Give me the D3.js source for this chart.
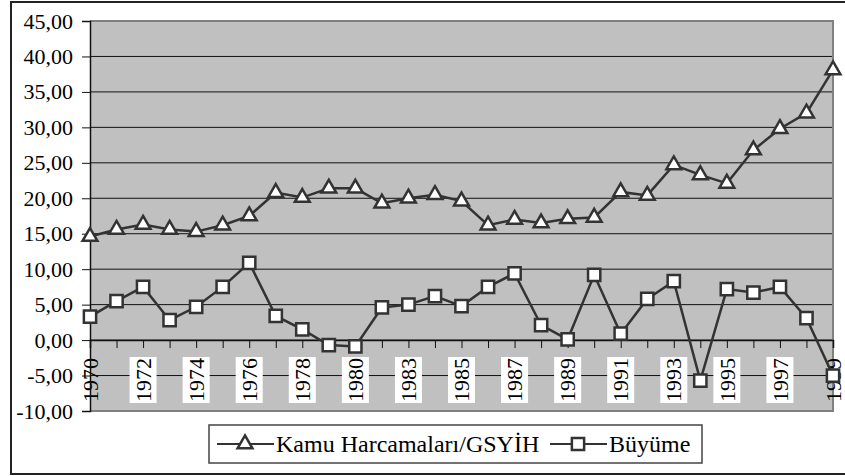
<!DOCTYPE html>
<html>
<head>
<meta charset="utf-8">
<script src="https://cdn.jsdelivr.net/npm/d3@7"></script>
<style>
  body { margin: 0; background: #fff; }
  svg text { font-family: "Liberation Serif", "Times New Roman", serif; fill: #000; }
</style>
</head>
<body>
<svg id="chart" width="845" height="476"></svg>
<script>
// years on the category axis (one year is missing between 1980 and 1983)
var years = ['1970', '1971', '1972', '1973', '1974', '1975', '1976', '1977', '1978', '1979',
  '1980', '1981', '1983', '1984', '1985', '1986', '1987', '1988', '1989', '1990',
  '1991', '1992', '1993', '1994', '1995', '1996', '1997', '1998', '1999'];

var kamu = [14.6, 15.6, 16.3, 15.6, 15.3, 16.2, 17.5, 20.8, 20.1, 21.4,
  21.4, 19.3, 20.0, 20.5, 19.6, 16.2, 17.0, 16.5, 17.1, 17.3,
  20.9, 20.4, 24.7, 23.3, 22.1, 26.8, 29.8, 32.0, 38.1];

var buyume = [3.3, 5.5, 7.5, 2.8, 4.7, 7.5, 10.9, 3.4, 1.5, -0.7,
  -0.9, 4.6, 5.0, 6.2, 4.8, 7.5, 9.4, 2.1, 0.1, 9.2,
  0.9, 5.8, 8.3, -5.7, 7.2, 6.7, 7.5, 3.1, -5.0];

var yTicks = [-10, -5, 0, 5, 10, 15, 20, 25, 30, 35, 40, 45];

var seriesNames = ['Kamu Harcamaları/GSYİH', 'Büyüme'];

var plot = { left: 90, top: 21, right: 833, bottom: 411 };
var ink = '#333';
var serif = '"Liberation Serif", "Times New Roman", serif';

var svg = d3.select('#chart');

// outer frame
svg.append('rect')
  .attr('x', 11).attr('y', 2).attr('width', 840).attr('height', 472)
  .attr('fill', 'none').attr('stroke', '#222').attr('stroke-width', 2);

var x = d3.scalePoint().domain(years).range([plot.left, plot.right]);
var y = d3.scaleLinear().domain([-10, 45]).range([plot.bottom, plot.top]);

// plot area
svg.append('rect')
  .attr('x', plot.left).attr('y', plot.top)
  .attr('width', plot.right - plot.left).attr('height', plot.bottom - plot.top)
  .attr('fill', '#c0c0c0');

// gridlines
svg.append('g').selectAll('line')
  .data(yTicks.filter(function (t) { return t > -10 && t < 45; }))
  .enter().append('line')
  .attr('x1', plot.left).attr('x2', plot.right)
  .attr('y1', function (d) { return y(d); }).attr('y2', function (d) { return y(d); })
  .attr('stroke', '#111').attr('stroke-width', 1);

// plot border (top, right, bottom)
svg.append('path')
  .attr('d', 'M' + plot.left + ',' + plot.top + 'H' + plot.right + 'V' + plot.bottom + 'H' + plot.left)
  .attr('fill', 'none').attr('stroke', '#808080').attr('stroke-width', 2);

// category labels with white boxes
var labelYears = years.filter(function (d, i) { return i % 2 === 0; });
var labels = svg.append('g').selectAll('g')
  .data(labelYears)
  .enter().append('g')
  .attr('transform', function (d) { return 'translate(' + x(d) + ',380)'; });

labels.filter(function (d, i) { return i > 0 && i < labelYears.length - 1; })
  .append('rect')
  .attr('x', -13.5).attr('y', -23).attr('width', 27).attr('height', 46)
  .attr('fill', '#fff');

labels.append('text')
  .attr('transform', 'rotate(-90)')
  .attr('text-anchor', 'middle')
  .attr('dy', '0.35em')
  .style('font-family', serif)
  .style('font-size', '22px')
  .text(function (d) { return d; });

// y axis
var yAxis = svg.append('g')
  .attr('transform', 'translate(' + plot.left + ',0)')
  .call(d3.axisLeft(y).tickValues(yTicks).tickSize(8).tickPadding(9)
    .tickFormat(function (d) { return d.toFixed(2).replace('.', ','); }));
yAxis.attr('font-family', null);
yAxis.select('.domain').attr('stroke', '#111').attr('stroke-width', 1.5);
yAxis.selectAll('.tick line').attr('stroke', '#111');
yAxis.selectAll('text')
  .style('font-size', '22px')
  .style('font-family', serif);

// x axis at zero
var xAxis = svg.append('g')
  .attr('transform', 'translate(0,' + y(0) + ')')
  .call(d3.axisBottom(x).tickSize(8).tickFormat(''));
xAxis.select('.domain').attr('stroke', '#111').attr('stroke-width', 1.5);
xAxis.selectAll('.tick line').attr('stroke', '#111');

// series
var line = function (values) {
  return d3.line()
    .x(function (d, i) { return x(years[i]); })
    .y(function (d) { return y(d); })(values);
};

var triangle = d3.symbol().type(d3.symbolTriangle).size(95);
var square = d3.symbol().type(d3.symbolSquare).size(150);

function drawSeries(values, symbol) {
  svg.append('path')
    .attr('d', line(values))
    .attr('fill', 'none').attr('stroke', ink).attr('stroke-width', 2.5);
  svg.append('g').selectAll('path')
    .data(values)
    .enter().append('path')
    .attr('d', symbol)
    .attr('transform', function (d, i) { return 'translate(' + x(years[i]) + ',' + y(d) + ')'; })
    .attr('fill', '#fff').attr('stroke', ink).attr('stroke-width', 2.5);
}

drawSeries(kamu, triangle);
drawSeries(buyume, square);

// legend
var legend = svg.append('g');
legend.append('rect')
  .attr('x', 209).attr('y', 425).attr('width', 493).attr('height', 38)
  .attr('fill', '#fff').attr('stroke', '#444').attr('stroke-width', 1.5);

var legendItems = [
  { name: seriesNames[0], symbol: triangle, x0: 217 },
  { name: seriesNames[1], symbol: square, x0: 550 }
];

var item = legend.selectAll('g.item')
  .data(legendItems)
  .enter().append('g').classed('item', true)
  .attr('transform', function (d) { return 'translate(' + d.x0 + ',444)'; });

item.append('line')
  .attr('x1', 0).attr('x2', 57)
  .attr('stroke', ink).attr('stroke-width', 2);
item.append('path')
  .attr('d', function (d) { return d.symbol(); })
  .attr('transform', 'translate(28,0)')
  .attr('fill', '#fff').attr('stroke', ink).attr('stroke-width', 2.5);
item.append('text')
  .attr('x', 59).attr('y', 8)
  .style('font-family', serif)
  .style('font-size', '24px')
  .text(function (d) { return d.name; });
</script>
</body>
</html>
